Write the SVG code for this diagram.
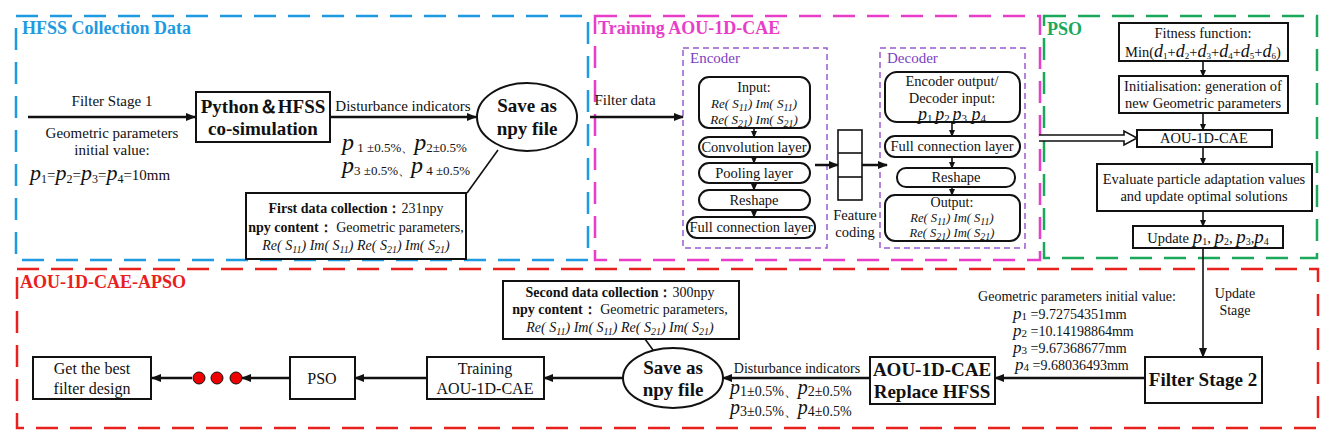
<svg xmlns="http://www.w3.org/2000/svg" width="1331" height="437" viewBox="0 0 1331 437" font-family="'Liberation Serif', 'Times New Roman', serif">
<style>
text{font-family:'Liberation Serif','Times New Roman',serif;fill:#111;}
.t{font-size:15px}
.b{font-weight:bold}
.i{font-style:italic}
.box{fill:#fff;stroke:#111;stroke-width:2}
.rbox{fill:#fff;stroke:#111;stroke-width:2}
.ln{stroke:#111;stroke-width:2.5;fill:none}
.ln2{stroke:#111;stroke-width:1.6;fill:none}
.cont{fill:none;stroke-width:2.5;stroke-dasharray:22 12}
.sub{font-size:10px}
</style>
<defs>
<marker id="ah" markerWidth="10" markerHeight="8" refX="9" refY="4" orient="auto" markerUnits="userSpaceOnUse"><path d="M0,0 L10,4 L0,8 z" fill="#111"/></marker>
<marker id="as" markerWidth="7" markerHeight="6" refX="6" refY="3" orient="auto" markerUnits="userSpaceOnUse"><path d="M0,0 L7,3 L0,6 z" fill="#111"/></marker>
</defs>

<g id="containers">
<rect x="16" y="16" width="572" height="244" class="cont" stroke="#1e9be0"/>
<text x="22" y="34" class="b" font-size="18" style="fill:#1e9be0">HFSS Collection Data</text>
<rect x="595" y="16" width="445" height="244" class="cont" stroke="#e83dc8"/>
<text x="598" y="34" class="b" font-size="18" style="fill:#e83dc8">Training AOU-1D-CAE</text>
<rect x="1044" y="16" width="273" height="242" class="cont" stroke="#1aa85a"/>
<text x="1047" y="35" class="b" font-size="18" style="fill:#1aa85a">PSO</text>
<rect x="17" y="269" width="1301" height="159" class="cont" stroke="#e8201e"/>
<text x="20" y="288" class="b" font-size="18" style="fill:#e8201e">AOU-1D-CAE-APSO</text>
<rect x="683" y="48" width="144" height="200" fill="none" stroke="#9b59d0" stroke-width="1.5" stroke-dasharray="6 4"/>
<text x="690" y="63" font-size="15" style="fill:#7b3fc0">Encoder</text>
<rect x="880" y="48" width="145" height="200" fill="none" stroke="#9b59d0" stroke-width="1.5" stroke-dasharray="6 4"/>
<text x="887" y="63" font-size="15" style="fill:#7b3fc0">Decoder</text>
</g>

<g id="connectors">
<line x1="28" y1="117" x2="195" y2="117" class="ln" marker-end="url(#ah)"/>
<line x1="330" y1="117" x2="476" y2="117" class="ln" marker-end="url(#ah)"/>
<line x1="498" y1="150" x2="467" y2="193" class="ln2"/>
<line x1="590" y1="117" x2="683" y2="117" class="ln" marker-end="url(#ah)"/>
<line x1="754" y1="128" x2="754" y2="137" class="ln2" marker-end="url(#as)"/>
<line x1="754" y1="157" x2="754" y2="163" class="ln2" marker-end="url(#as)"/>
<line x1="754" y1="183" x2="754" y2="190" class="ln2" marker-end="url(#as)"/>
<line x1="754" y1="210" x2="754" y2="217" class="ln2" marker-end="url(#as)"/>
<line x1="815" y1="165" x2="838" y2="165" class="ln" marker-end="url(#ah)"/>
<line x1="862" y1="165" x2="887" y2="165" class="ln" marker-end="url(#ah)"/>
<line x1="952" y1="122" x2="952" y2="136" class="ln2" marker-end="url(#as)"/>
<line x1="952" y1="157" x2="952" y2="168" class="ln2" marker-end="url(#as)"/>
<line x1="952" y1="187" x2="952" y2="195" class="ln2" marker-end="url(#as)"/>
<line x1="1203" y1="61" x2="1203" y2="76" class="ln2" marker-end="url(#as)"/>
<line x1="1203" y1="113" x2="1203" y2="130" class="ln2" marker-end="url(#as)"/>
<line x1="1203" y1="147" x2="1203" y2="164" class="ln2" marker-end="url(#as)"/>
<line x1="1203" y1="211" x2="1203" y2="226" class="ln2" marker-end="url(#as)"/>
<path d="M1039,135 H1124 V131 L1137,138 L1124,145 V141 H1039" fill="#fff" stroke="#111" stroke-width="1.6"/>
<line x1="1203" y1="248" x2="1203" y2="357" class="ln2" marker-end="url(#ah)"/>
<line x1="1145" y1="378" x2="995" y2="378" class="ln" marker-end="url(#ah)"/>
<line x1="870" y1="378" x2="723" y2="378" class="ln" marker-end="url(#ah)"/>
<line x1="645" y1="339" x2="653" y2="350" class="ln2"/>
<line x1="623" y1="378" x2="544" y2="378" class="ln" marker-end="url(#ah)"/>
<line x1="427" y1="378" x2="355" y2="378" class="ln" marker-end="url(#ah)"/>
<line x1="290" y1="378" x2="242" y2="378" class="ln" marker-end="url(#ah)"/>
<line x1="192" y1="378" x2="152" y2="378" class="ln" marker-end="url(#ah)"/>
</g>

<g id="stage1-label">
<text x="112" y="106" class="t" text-anchor="middle">Filter Stage 1</text>
<text x="112" y="138" class="t" text-anchor="middle">Geometric parameters</text>
<text x="112" y="155" class="t" text-anchor="middle">initial value:</text>
<text x="30" y="180" font-size="22"><tspan class="i">p</tspan><tspan font-size="12" dy="3">1</tspan><tspan font-size="15" dy="-3">=</tspan><tspan class="i">p</tspan><tspan font-size="12" dy="3">2</tspan><tspan font-size="15" dy="-3">=</tspan><tspan class="i">p</tspan><tspan font-size="12" dy="3">3</tspan><tspan font-size="15" dy="-3">=</tspan><tspan class="i">p</tspan><tspan font-size="12" dy="3">4</tspan><tspan font-size="15" dy="-3">=10mm</tspan></text>
</g>
<g id="python-hfss">
<rect x="196" y="92" width="134" height="50" class="box"/>
<text x="263" y="113" class="b" font-size="19" text-anchor="middle">Python＆HFSS</text>
<text x="263" y="135" class="b" font-size="19" text-anchor="middle">co-simulation</text>
</g>
<g id="dist1">
<text x="403" y="111" class="t" text-anchor="middle">Disturbance indicators</text>
<text x="342" y="150" font-size="24"><tspan class="i">p</tspan><tspan font-size="13" dy="2"> 1 ±0.5%、</tspan><tspan class="i" dy="-2">p</tspan><tspan font-size="13" dy="2">2±0.5%</tspan></text>
<text x="342" y="173" font-size="24"><tspan class="i">p</tspan><tspan font-size="13" dy="2">3 ±0.5%、</tspan><tspan class="i" dy="-2">p</tspan><tspan font-size="13" dy="2"> 4 ±0.5%</tspan></text>
</g>
<g id="save1">
<ellipse cx="527" cy="117" rx="50" ry="34" class="box"/>
<text x="527" y="112" class="b" font-size="19" text-anchor="middle">Save as</text>
<text x="527" y="135" class="b" font-size="19" text-anchor="middle">npy file</text>
</g>
<g id="first-collection">
<rect x="246" y="193" width="220" height="66" class="box" stroke-width="1.6"/>
<text x="356" y="213" font-size="14" text-anchor="middle"><tspan class="b">First data collection：</tspan>231npy</text>
<text x="356" y="232" font-size="14" text-anchor="middle"><tspan class="b">npy content：</tspan> Geometric parameters,</text>
<text x="356" y="250" font-size="14" class="i" text-anchor="middle">Re( S<tspan class="sub" dy="3">11</tspan><tspan dy="-3">) Im( S</tspan><tspan class="sub" dy="3">11</tspan><tspan dy="-3">) Re( S</tspan><tspan class="sub" dy="3">21</tspan><tspan dy="-3">) Im( S</tspan><tspan class="sub" dy="3">21</tspan><tspan dy="-3">)</tspan></text>
</g>
<text x="625" y="105" class="t" text-anchor="middle">Filter data</text>

<g id="enc-input">
<rect x="699" y="77" width="111" height="51" rx="10" class="rbox"/>
<text x="754" y="92" font-size="14" text-anchor="middle">Input:</text>
<text x="754" y="108" font-size="13" class="i" text-anchor="middle">Re( S<tspan class="sub" dy="3">11</tspan><tspan dy="-3">) Im( S</tspan><tspan class="sub" dy="3">11</tspan><tspan dy="-3">)</tspan></text>
<text x="754" y="124" font-size="13" class="i" text-anchor="middle">Re( S<tspan class="sub" dy="3">21</tspan><tspan dy="-3">) Im( S</tspan><tspan class="sub" dy="3">21</tspan><tspan dy="-3">)</tspan></text>
</g>
<g id="enc-conv"><rect x="699" y="137" width="111" height="20" rx="10" class="rbox"/><text x="754" y="152" font-size="14.5" text-anchor="middle">Convolution layer</text></g>
<g id="enc-pool"><rect x="699" y="163" width="111" height="20" rx="10" class="rbox"/><text x="754" y="178" font-size="14.5" text-anchor="middle">Pooling layer</text></g>
<g id="enc-reshape"><rect x="699" y="190" width="111" height="20" rx="10" class="rbox"/><text x="754" y="205" font-size="14.5" text-anchor="middle">Reshape</text></g>
<g id="enc-fc"><rect x="687" y="217" width="128" height="21" rx="10" class="rbox"/><text x="751" y="232" font-size="14.5" text-anchor="middle">Full connection layer</text></g>
<g id="feature-coding">
<rect x="838" y="130" width="24" height="70" fill="#fff" stroke="#111" stroke-width="1.6"/>
<line x1="838" y1="153" x2="862" y2="153" stroke="#111" stroke-width="1.6"/>
<line x1="838" y1="177" x2="862" y2="177" stroke="#111" stroke-width="1.6"/>
<text x="855" y="220" font-size="14.5" text-anchor="middle">Feature</text>
<text x="855" y="237" font-size="14.5" text-anchor="middle">coding</text>
</g>
<g id="dec-input">
<rect x="885" y="72" width="135" height="50" rx="12" class="rbox"/>
<text x="952" y="86" font-size="14.5" text-anchor="middle">Encoder output/</text>
<text x="952" y="103" font-size="14.5" text-anchor="middle">Decoder input:</text>
<text x="952" y="120" font-size="18" text-anchor="middle"><tspan class="i">p</tspan><tspan font-size="11" dy="2">1 </tspan><tspan class="i" dy="-2"> p</tspan><tspan font-size="11" dy="2">2 </tspan><tspan class="i" dy="-2"> p</tspan><tspan font-size="11" dy="2">3</tspan><tspan class="i" dy="-2"> p</tspan><tspan font-size="11" dy="2">4</tspan></text>
</g>
<g id="dec-fc"><rect x="885" y="136" width="135" height="21" rx="10" class="rbox"/><text x="952" y="151" font-size="14.5" text-anchor="middle">Full connection layer</text></g>
<g id="dec-reshape"><rect x="897" y="168" width="118" height="19" rx="9" class="rbox"/><text x="956" y="182" font-size="14.5" text-anchor="middle">Reshape</text></g>
<g id="dec-output">
<rect x="885" y="195" width="135" height="46" rx="10" class="rbox"/>
<text x="952" y="207" font-size="14" text-anchor="middle">Output:</text>
<text x="952" y="222" font-size="12.5" class="i" text-anchor="middle">Re( S<tspan class="sub" dy="3">11</tspan><tspan dy="-3">)  Im( S</tspan><tspan class="sub" dy="3">11</tspan><tspan dy="-3">)</tspan></text>
<text x="952" y="237" font-size="12.5" class="i" text-anchor="middle">Re( S<tspan class="sub" dy="3">21</tspan><tspan dy="-3">) Im( S</tspan><tspan class="sub" dy="3">21</tspan><tspan dy="-3">)</tspan></text>
</g>

<g id="fitness">
<rect x="1119" y="23" width="169" height="38" class="box" stroke-width="1.6"/>
<text x="1203" y="38" font-size="14.5" text-anchor="middle">Fitness function:</text>
<text x="1203" y="57" font-size="14.5" text-anchor="middle">Min(<tspan class="i" font-size="18">d</tspan><tspan font-size="9" dy="2">1</tspan><tspan dy="-2">+</tspan><tspan class="i" font-size="18">d</tspan><tspan font-size="9" dy="2">2</tspan><tspan dy="-2">+</tspan><tspan class="i" font-size="18">d</tspan><tspan font-size="9" dy="2">3</tspan><tspan dy="-2">+</tspan><tspan class="i" font-size="18">d</tspan><tspan font-size="9" dy="2">4</tspan><tspan dy="-2">+</tspan><tspan class="i" font-size="18">d</tspan><tspan font-size="9" dy="2">5</tspan><tspan dy="-2">+</tspan><tspan class="i" font-size="18">d</tspan><tspan font-size="9" dy="2">6</tspan><tspan dy="-2">)</tspan></text>
</g>
<g id="init">
<rect x="1119" y="76" width="169" height="37" class="box" stroke-width="1.6"/>
<text x="1203" y="91" font-size="14.5" text-anchor="middle">Initialisation: generation of</text>
<text x="1203" y="108" font-size="14.5" text-anchor="middle">new Geometric parameters</text>
</g>
<g id="pso-cae">
<rect x="1137" y="130" width="135" height="17" class="box" stroke-width="1.6"/>
<text x="1204" y="143" font-size="14.5" text-anchor="middle">AOU-1D-CAE</text>
</g>
<g id="evaluate">
<rect x="1097" y="164" width="215" height="47" class="box" stroke-width="1.6"/>
<text x="1204" y="184" font-size="14.5" text-anchor="middle">Evaluate particle adaptation values</text>
<text x="1204" y="201" font-size="14.5" text-anchor="middle">and update optimal solutions</text>
</g>
<g id="update">
<rect x="1133" y="226" width="150" height="22" class="box" stroke-width="1.6"/>
<text x="1208" y="243" font-size="14.5" text-anchor="middle">Update <tspan class="i" font-size="19">p</tspan><tspan font-size="10" dy="2">1</tspan><tspan dy="-2">, </tspan><tspan class="i" font-size="19">p</tspan><tspan font-size="10" dy="2">2</tspan><tspan dy="-2">, </tspan><tspan class="i" font-size="19">p</tspan><tspan font-size="10" dy="2">3</tspan><tspan dy="-2">,</tspan><tspan class="i" font-size="19">p</tspan><tspan font-size="10" dy="2">4</tspan></text>
</g>

<text x="1235" y="298" font-size="14" text-anchor="middle">Update</text>
<text x="1235" y="315" font-size="14" text-anchor="middle">Stage</text>
<g id="geo2">
<text x="1077" y="301" font-size="14" text-anchor="middle">Geometric parameters initial value:</text>
<text x="1013" y="319" font-size="14"><tspan class="i" font-size="17">p</tspan><tspan font-size="11" dy="1">1</tspan><tspan dy="-1"> =9.72754351mm</tspan></text>
<text x="1013" y="336" font-size="14"><tspan class="i" font-size="17">p</tspan><tspan font-size="11" dy="1">2</tspan><tspan dy="-1"> =10.14198864mm</tspan></text>
<text x="1013" y="353" font-size="14"><tspan class="i" font-size="17">p</tspan><tspan font-size="11" dy="1">3</tspan><tspan dy="-1">  =9.67368677mm</tspan></text>
<text x="1015" y="370" font-size="14"><tspan class="i" font-size="17">p</tspan><tspan font-size="11" dy="1">4</tspan><tspan dy="-1"> =9.68036493mm</tspan></text>
</g>
<g id="filter-stage2">
<rect x="1145" y="357" width="117" height="46" class="box"/>
<text x="1203" y="386" class="b" font-size="19" text-anchor="middle">Filter Stage 2</text>
</g>
<g id="aou-replace">
<rect x="870" y="357" width="125" height="47" class="box"/>
<text x="932" y="376" class="b" font-size="19" text-anchor="middle">AOU-1D-CAE</text>
<text x="932" y="398" class="b" font-size="19" text-anchor="middle">Replace HFSS</text>
</g>
<g id="dist2">
<text x="797" y="373" font-size="14" text-anchor="middle">Disturbance indicators</text>
<text x="730" y="394" font-size="14"><tspan class="i" font-size="20">p</tspan><tspan dy="2">1±0.5%、</tspan><tspan class="i" font-size="20" dy="-2">p</tspan><tspan dy="2">2±0.5%</tspan></text>
<text x="730" y="414" font-size="14"><tspan class="i" font-size="20">p</tspan><tspan dy="2">3±0.5%、</tspan><tspan class="i" font-size="20" dy="-2">p</tspan><tspan dy="2">4±0.5%</tspan></text>
</g>
<g id="save2">
<ellipse cx="673" cy="378" rx="50" ry="30" class="box"/>
<text x="673" y="374" class="b" font-size="19" text-anchor="middle">Save as</text>
<text x="673" y="396" class="b" font-size="19" text-anchor="middle">npy file</text>
</g>
<g id="second-collection">
<rect x="503" y="281" width="236" height="58" class="box" stroke-width="1.6"/>
<text x="620" y="297" font-size="14" text-anchor="middle"><tspan class="b">Second data collection：</tspan>300npy</text>
<text x="620" y="314" font-size="14" text-anchor="middle"><tspan class="b">npy content：</tspan> Geometric parameters,</text>
<text x="620" y="332" font-size="14" class="i" text-anchor="middle">Re( S<tspan class="sub" dy="3">11</tspan><tspan dy="-3">) Im( S</tspan><tspan class="sub" dy="3">11</tspan><tspan dy="-3">) Re( S</tspan><tspan class="sub" dy="3">21</tspan><tspan dy="-3">) Im( S</tspan><tspan class="sub" dy="3">21</tspan><tspan dy="-3">)</tspan></text>
</g>
<g id="training2">
<rect x="427" y="357" width="117" height="42" class="box" stroke-width="1.6"/>
<text x="485" y="374" font-size="16" text-anchor="middle">Training</text>
<text x="485" y="394" font-size="16" text-anchor="middle">AOU-1D-CAE</text>
</g>
<g id="pso2">
<rect x="290" y="357" width="65" height="42" class="box" stroke-width="1.6"/>
<text x="322" y="384" font-size="16" text-anchor="middle">PSO</text>
</g>
<g id="dots">
<circle cx="199" cy="378" r="6" fill="#e00" stroke="#111" stroke-width="1"/>
<circle cx="217" cy="378" r="6" fill="#e00" stroke="#111" stroke-width="1"/>
<circle cx="236" cy="378" r="6" fill="#e00" stroke="#111" stroke-width="1"/>
</g>
<g id="best">
<rect x="33" y="357" width="118" height="42" class="box" stroke-width="1.6"/>
<text x="92" y="374" font-size="16" text-anchor="middle">Get the best</text>
<text x="92" y="394" font-size="16" text-anchor="middle">filter design</text>
</g>
</svg>
